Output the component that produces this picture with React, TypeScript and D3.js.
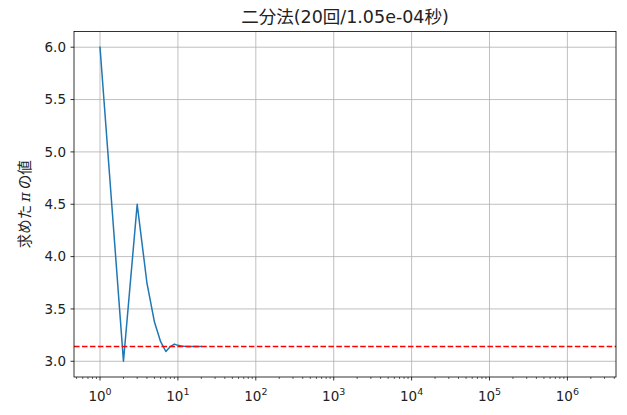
import React from "react";
import * as d3 from "d3";

const iterations = [1, 2, 3, 4, 5, 6, 7, 8, 9, 10, 11, 12, 13, 14, 15, 16, 17, 18, 19, 20];
const estimates = [
  6.0, 3.0, 4.5, 3.75, 3.375, 3.1875, 3.09375, 3.140625, 3.1640625, 3.15234375,
  3.146484375, 3.1435546875, 3.14208984375, 3.141357421875, 3.1417236328125,
  3.14154052734375, 3.141632080078125, 3.1415863037109375, 3.1416091918945312,
  3.1415977478027344,
];
const trueValue = Math.PI;
const yTicks = [3.0, 3.5, 4.0, 4.5, 5.0, 5.5, 6.0];
const xExponents = [0, 1, 2, 3, 4, 5, 6];
const titleText = "二分法(20回/1.05e-04秒)";
const yLabelParts = ["求めた", "π", "の値"];

const W = 627;
const H = 415;
const left = 74;
const right = 616;
const top = 31.5;
const bottom = 377;
const FONT = "'DejaVu Sans', 'Noto Sans CJK JP', sans-serif";
const CJK = "'Noto Sans CJK JP', sans-serif";

export default function App() {
  const x = d3.scaleLog().domain([Math.pow(10, -0.334), Math.pow(10, 6.624)]).range([left, right]);
  const y = d3.scaleLinear().domain([2.85, 6.15]).range([bottom, top]);

  const line = d3
    .line<number>()
    .x((_, i) => x(iterations[i]))
    .y((d) => y(d));

  const minorTicks: number[] = [];
  for (let e = -1; e <= 6; e++) {
    for (let m = 2; m <= 9; m++) {
      const v = m * Math.pow(10, e);
      const px = x(v);
      if (px >= left - 0.01 && px <= right + 0.01) minorTicks.push(v);
    }
  }

  return (
    <svg width={W} height={H} style={{ position: "absolute", left: 0, top: 0, background: "#fff" }}>
      <rect x={0} y={0} width={W} height={H} fill="#fff" />
      {xExponents.map((e) => (
        <line key={"gx" + e} x1={x(Math.pow(10, e))} x2={x(Math.pow(10, e))} y1={top} y2={bottom} stroke="#b0b0b0" strokeWidth={0.8} />
      ))}
      {yTicks.map((t) => (
        <line key={"gy" + t} x1={left} x2={right} y1={y(t)} y2={y(t)} stroke="#b0b0b0" strokeWidth={0.8} />
      ))}
      <defs>
        <clipPath id="plotclip">
          <rect x={left} y={top} width={right - left} height={bottom - top} />
        </clipPath>
      </defs>
      <g clipPath="url(#plotclip)">
        <path d={line(estimates) || ""} fill="none" stroke="#1f77b4" strokeWidth={1.5} strokeLinejoin="round" strokeLinecap="square" />
        <line x1={left} x2={right} y1={y(trueValue)} y2={y(trueValue)} stroke="#ff0000" strokeWidth={1.5} strokeDasharray="5.55,2.4" />
      </g>
      <rect x={left} y={top} width={right - left} height={bottom - top} fill="none" stroke="#000" strokeWidth={0.8} />
      {yTicks.map((t) => (
        <g key={"yt" + t}>
          <line x1={left - 3.5} x2={left} y1={y(t)} y2={y(t)} stroke="#000" strokeWidth={0.8} />
          <text x={left - 8} y={y(t)} dy="0.36em" textAnchor="end" fontSize={13.5} fontFamily={FONT} fill="#222">
            {t.toFixed(1)}
          </text>
        </g>
      ))}
      {xExponents.map((e) => {
        const px = x(Math.pow(10, e));
        return (
          <g key={"xt" + e}>
            <line x1={px} x2={px} y1={bottom} y2={bottom + 3.5} stroke="#000" strokeWidth={0.8} />
            <text x={px} y={bottom + 24} textAnchor="middle" fontSize={13.5} fontFamily={FONT} fill="#222">
              10
              <tspan fontSize={9.5} dy={-6}>{e}</tspan>
            </text>
          </g>
        );
      })}
      {minorTicks.map((v, i) => (
        <line key={"mt" + i} x1={x(v)} x2={x(v)} y1={bottom} y2={bottom + 2} stroke="#000" strokeWidth={0.6} />
      ))}
      <text x={(left + right) / 2} y={23} textAnchor="middle" fontSize={17.5} fontFamily={FONT} fill="#222">
        {titleText}
      </text>
      <text
        transform={`translate(${25}, ${(top + bottom) / 2}) rotate(-90)`}
        textAnchor="middle"
        dy="0.36em"
        fontSize={14.5}
        fontFamily={CJK}
        fill="#222"
      >
        <tspan>{yLabelParts[0]}</tspan>
        <tspan dx={3} fontFamily="'DejaVu Serif', serif" fontStyle="italic">{yLabelParts[1]}</tspan>
        <tspan dx={3}>{yLabelParts[2]}</tspan>
      </text>
    </svg>
  );
}
